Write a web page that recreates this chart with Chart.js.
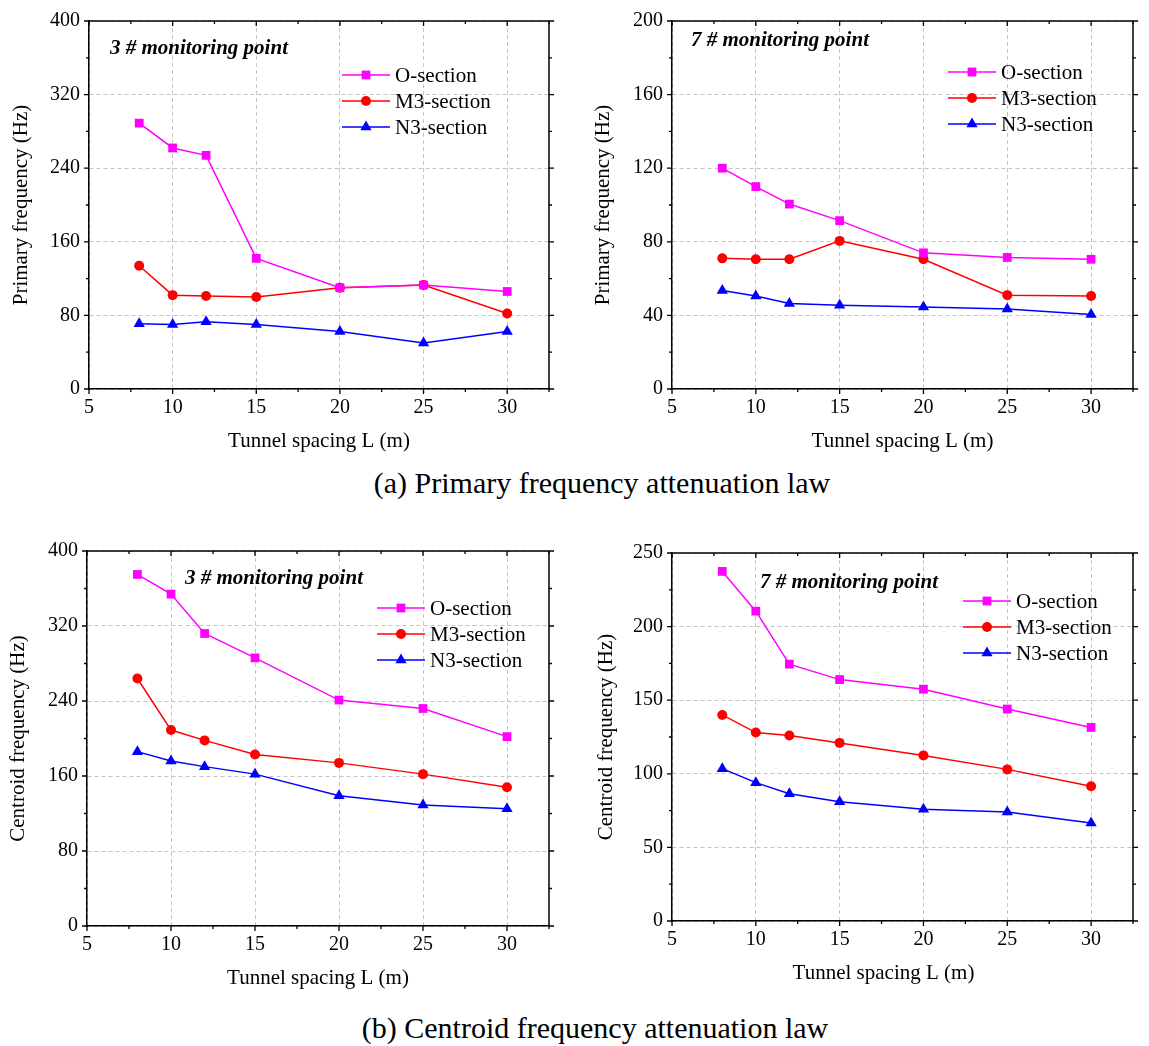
<!DOCTYPE html>
<html>
<head>
<meta charset="utf-8">
<script src="https://cdn.jsdelivr.net/npm/chart.js@4.4.0/dist/chart.umd.min.js"></script>
<style>
  body { margin: 0; background: #fff; width: 1149px; height: 1046px; position: relative; overflow: hidden; }
  .panel { position: absolute; }
  .caption { position: absolute; width: 800px; text-align: center; font-family: "Liberation Serif", serif; font-size: 30px; color: #000; line-height: 34px; }
</style>
</head>
<body>
<div class="panel" style="left:0;top:0"><canvas id="c1" width="574" height="465"></canvas></div>
<div class="panel" style="left:574px;top:0"><canvas id="c2" width="575" height="465"></canvas></div>
<div class="caption" style="left:202px;top:466px">(a) Primary frequency attenuation law</div>
<div class="panel" style="left:0;top:520px"><canvas id="c3" width="574" height="490"></canvas></div>
<div class="panel" style="left:574px;top:520px"><canvas id="c4" width="575" height="490"></canvas></div>
<div class="caption" style="left:195px;top:1011px">(b) Centroid frequency attenuation law</div>
<script>
// tunnel spacing L (m)
const spacing = [8, 10, 12, 15, 20, 25, 30];
const xTicks = [5, 10, 15, 20, 25, 30];
const seriesNames = ['O-section', 'M3-section', 'N3-section'];

// (a) primary frequency
const primary3O  = [289, 262, 254, 142, 110, 113, 106];
const primary3M3 = [134, 102, 101, 100, 110, 113, 82];
const primary3N3 = [71, 70, 73, 70, 62.5, 50, 62.5];
const primary7O  = [120, 110, 100.5, 91.5, 74, 71.5, 70.5];
const primary7M3 = [71, 70.5, 70.5, 80.5, 70.5, 51, 50.5];
const primary7N3 = [53.5, 50.5, 46.5, 45.5, 44.5, 43.5, 40.5];

// (b) centroid frequency
const centroid3O  = [375, 354, 312, 286, 241, 232, 202];
const centroid3M3 = [264, 209, 198, 183, 174, 162, 148];
const centroid3N3 = [186, 176, 170, 162, 139, 129, 125];
const centroid7O  = [237.5, 210.5, 174.5, 164, 157.5, 144, 131.5];
const centroid7M3 = [140, 128, 126, 121, 112.5, 103, 91.5];
const centroid7N3 = [103.5, 94, 86.5, 81, 76, 74, 66.5];

const yTicks1 = [0, 80, 160, 240, 320, 400];
const yTicks2 = [0, 40, 80, 120, 160, 200];
const yTicks3 = [0, 80, 160, 240, 320, 400];
const yTicks4 = [0, 50, 100, 150, 200, 250];

const colors = ['#ff00ff', '#ff0000', '#0000ff'];
const shapes = ['rect', 'circle', 'triangle'];
const radii = [6.2, 5, 6.5];
const serif = '"Liberation Serif", "Times New Roman", serif';

const framePlugin = {
    id: 'frame',
    afterDraw(chart) {
        const ctx = chart.ctx;
        const a = chart.chartArea;
        const xs = chart.scales.x, ys = chart.scales.y;
        const o = chart.options.plugins.frame;
        ctx.save();
        ctx.strokeStyle = '#000';
        ctx.lineWidth = 1.5;
        ctx.beginPath();
        ctx.moveTo(a.left, a.top); ctx.lineTo(a.right, a.top);
        ctx.moveTo(a.right, a.top); ctx.lineTo(a.right, a.bottom);
        ctx.stroke();

        // ticks: left/bottom outward, top inward, right outward
        ctx.lineWidth = 1.3;
        const xStep = o.xTicks[1] - o.xTicks[0];
        const yStep = o.yTicks[1] - o.yTicks[0];
        ctx.beginPath();
        for (let v = xs.min; v <= xs.max + 1e-6; v += xStep / 2) {
            const px = xs.getPixelForValue(v);
            const major = Math.abs((v - xs.min) % xStep) < 1e-6;
            const len = major ? 5 : 3;
            ctx.moveTo(px, a.bottom); ctx.lineTo(px, a.bottom + len);
            ctx.moveTo(px, a.top); ctx.lineTo(px, a.top + len);
        }
        for (let v = ys.min; v <= ys.max + 1e-6; v += yStep / 2) {
            const py = ys.getPixelForValue(v);
            const major = Math.abs(v % yStep) < 1e-6;
            const len = major ? 5 : 3;
            ctx.moveTo(a.left, py); ctx.lineTo(a.left - len, py);
            ctx.moveTo(a.right, py); ctx.lineTo(a.right + len, py);
        }
        ctx.stroke();

        // x axis title (drawn here so it can sit off-centre like the original)
        ctx.fillStyle = '#000';
        ctx.textBaseline = 'middle';
        ctx.textAlign = 'center';
        ctx.font = '21px ' + serif;
        ctx.fillText('Tunnel spacing L (m)', (a.left + a.right) / 2 + o.xtShift, o.xtY);

        // annotation
        ctx.font = 'italic bold 21px ' + serif;
        ctx.textAlign = 'left';
        ctx.fillText(o.note, o.noteX, o.noteY);

        // legend
        ctx.font = '21px ' + serif;
        chart.data.datasets.forEach((ds, i) => {
            const y = o.legY + i * 26;
            ctx.strokeStyle = ds.borderColor;
            ctx.lineWidth = 1.5;
            ctx.beginPath();
            ctx.moveTo(o.legX, y); ctx.lineTo(o.legX + 48, y);
            ctx.stroke();
            ctx.fillStyle = ds.pointBackgroundColor;
            Chart.helpers.drawPoint(ctx, { pointStyle: ds.pointStyle, radius: ds.pointRadius, borderWidth: 0 }, o.legX + 24, y);
            ctx.fillStyle = '#000';
            ctx.fillText(ds.label, o.legX + 53, y + 1);
        });
        ctx.restore();
    }
};

function makeChart(id, values, yTicks, yTitle, box, note) {
    const canvas = document.getElementById(id);
    const W = canvas.width, H = canvas.height;
    new Chart(canvas, {
        type: 'line',
        data: {
            datasets: values.map((vals, i) => ({
                label: seriesNames[i],
                data: spacing.map((x, k) => ({ x: x, y: vals[k] })),
                borderColor: colors[i],
                backgroundColor: colors[i],
                pointBackgroundColor: colors[i],
                pointBorderColor: colors[i],
                pointBorderWidth: 0,
                pointStyle: shapes[i],
                pointRadius: radii[i],
                borderWidth: 1.5,
                tension: 0
            }))
        },
        options: {
            responsive: false,
            animation: false,
            events: [],
            layout: { padding: { left: 0, top: box.T, right: W - box.R, bottom: 0 } },
            plugins: {
                legend: { display: false },
                tooltip: { enabled: false },
                frame: {
                    xTicks: xTicks, yTicks: yTicks, xtY: box.xtY, xtShift: box.xtShift || 0,
                    note: note.text, noteX: note.x, noteY: note.y, legX: note.legX, legY: note.legY
                }
            },
            scales: {
                x: {
                    type: 'linear',
                    min: 5, max: 32.5,
                    afterBuildTicks: s => { s.ticks = xTicks.map(v => ({ value: v })); },
                    afterFit: s => { s.height = H - box.B; },
                    grid: { color: '#c4c4c4', lineWidth: 1, drawTicks: false },
                    border: { display: true, color: '#000', width: 1.5, dash: [4, 3] },
                    ticks: { color: '#000', padding: 7, font: { family: serif, size: 20 } },
                    title: { display: false }
                },
                y: {
                    min: yTicks[0], max: yTicks[yTicks.length - 1],
                    afterBuildTicks: s => { s.ticks = yTicks.map(v => ({ value: v })); },
                    afterFit: s => { s.width = box.L; },
                    grid: { color: '#c4c4c4', lineWidth: 1, drawTicks: false },
                    border: { display: true, color: '#000', width: 1.5, dash: [4, 3] },
                    ticks: { color: '#000', padding: 9, font: { family: serif, size: 20 } },
                    title: { display: true, text: yTitle, color: '#000', font: { family: serif, size: 21 }, padding: { top: box.yt, bottom: 0 } }
                }
            }
        },
        plugins: [framePlugin]
    });
}

makeChart('c1', [primary3O, primary3M3, primary3N3], yTicks1, 'Primary frequency (Hz)',
    { L: 89, R: 549, T: 18, B: 389, xtY: 441, yt: 9 },
    { text: '3 # monitoring point', x: 110, y: 49, legX: 342, legY: 75 });
makeChart('c2', [primary7O, primary7M3, primary7N3], yTicks2, 'Primary frequency (Hz)',
    { L: 98, R: 559, T: 15, B: 389, xtY: 441, yt: 17 },
    { text: '7 # monitoring point', x: 117, y: 41, legX: 374, legY: 72 });
makeChart('c3', [centroid3O, centroid3M3, centroid3N3], yTicks3, 'Centroid frequency (Hz)',
    { L: 87, R: 549, T: 31, B: 406, xtY: 458, yt: 6 },
    { text: '3 # monitoring point', x: 185, y: 59, legX: 377, legY: 88 });
makeChart('c4', [centroid7O, centroid7M3, centroid7N3], yTicks4, 'Centroid frequency (Hz)',
    { L: 98, R: 559, T: 33, B: 401, xtY: 453, xtShift: -19, yt: 20 },
    { text: '7 # monitoring point', x: 186, y: 63, legX: 389, legY: 81 });
</script>
</body>
</html>
